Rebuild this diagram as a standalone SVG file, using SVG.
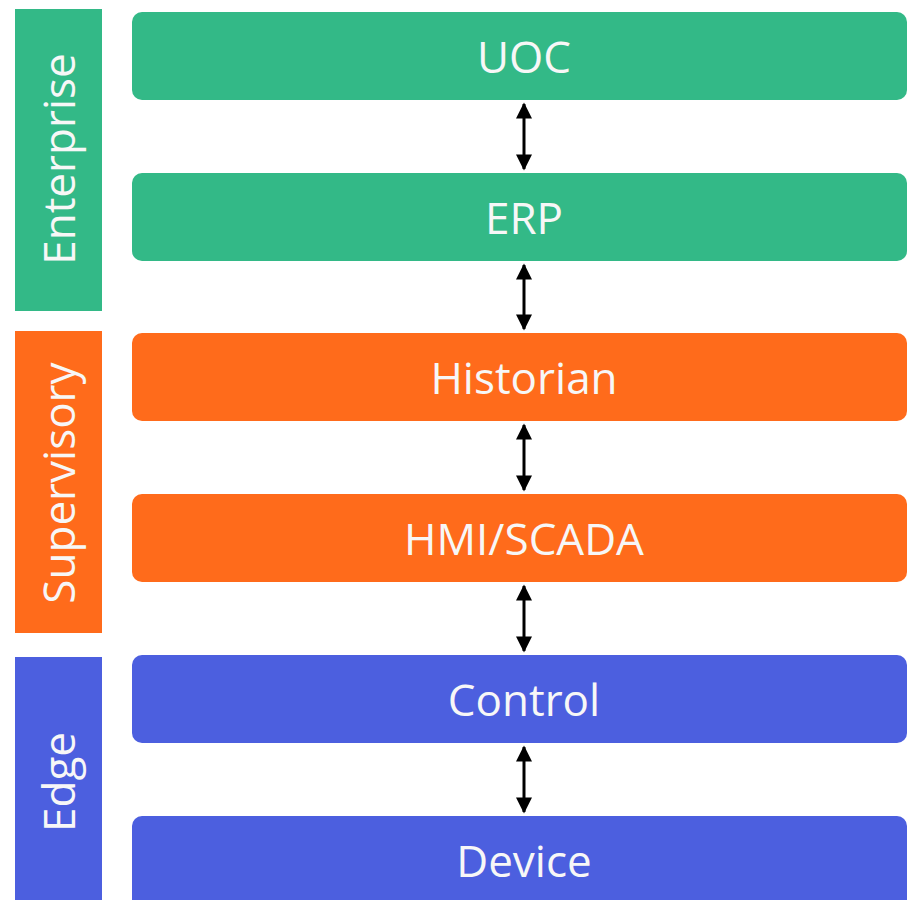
<svg xmlns="http://www.w3.org/2000/svg" width="907" height="900" viewBox="0 0 907 900">
<defs>
<style>
.g{fill:#33B987}.o{fill:#FF6B1B}.b{fill:#4C5FDF}
.t{font-family:"Open Sans","Noto Sans",sans-serif;font-size:44px;fill:#F7F7F7;text-anchor:middle}
.c{stroke:#000;stroke-width:3;fill:none;marker-start:url(#ah);marker-end:url(#ah)}
</style>
<marker id="ah" viewBox="0 0 10 10" refX="9" refY="5" markerWidth="5.4" markerHeight="5.4" orient="auto-start-reverse" markerUnits="strokeWidth">
<path d="M0,0 L10,5 L0,10 Z" fill="#000"/>
</marker>
</defs>
<rect width="907" height="900" fill="#fff"/>
<g id="lane-enterprise"><rect class="g" x="15" y="9" width="87" height="302"/><text class="t" transform="translate(75,159) rotate(-90)">Enterprise</text></g>
<g id="lane-supervisory"><rect class="o" x="15" y="331" width="87" height="302"/><text class="t" transform="translate(75,483) rotate(-90)">Supervisory</text></g>
<g id="lane-edge"><rect class="b" x="15" y="657" width="87" height="260"/><text class="t" transform="translate(75,782) rotate(-90)">Edge</text></g>
<g id="uoc"><rect class="g" x="132" y="12" width="775" height="88" rx="10"/><text class="t" x="524" y="73">UOC</text></g>
<g id="erp"><rect class="g" x="132" y="173" width="775" height="88" rx="10"/><text class="t" x="524" y="234">ERP</text></g>
<g id="historian"><rect class="o" x="132" y="333" width="775" height="88" rx="10"/><text class="t" x="524" y="394">Historian</text></g>
<g id="hmi"><rect class="o" x="132" y="494" width="775" height="88" rx="10"/><text class="t" x="524" y="555">HMI/SCADA</text></g>
<g id="control"><rect class="b" x="132" y="655" width="775" height="88" rx="10"/><text class="t" x="524" y="716">Control</text></g>
<g id="device"><rect class="b" x="132" y="816" width="775" height="100" rx="10"/><text class="t" x="524" y="877">Device</text></g>
<g id="connectors">
<line class="c" x1="524" y1="104" x2="524" y2="169"/>
<line class="c" x1="524" y1="265" x2="524" y2="329"/>
<line class="c" x1="524" y1="425" x2="524" y2="490"/>
<line class="c" x1="524" y1="586" x2="524" y2="651"/>
<line class="c" x1="524" y1="747" x2="524" y2="812"/>
</g>
</svg>
